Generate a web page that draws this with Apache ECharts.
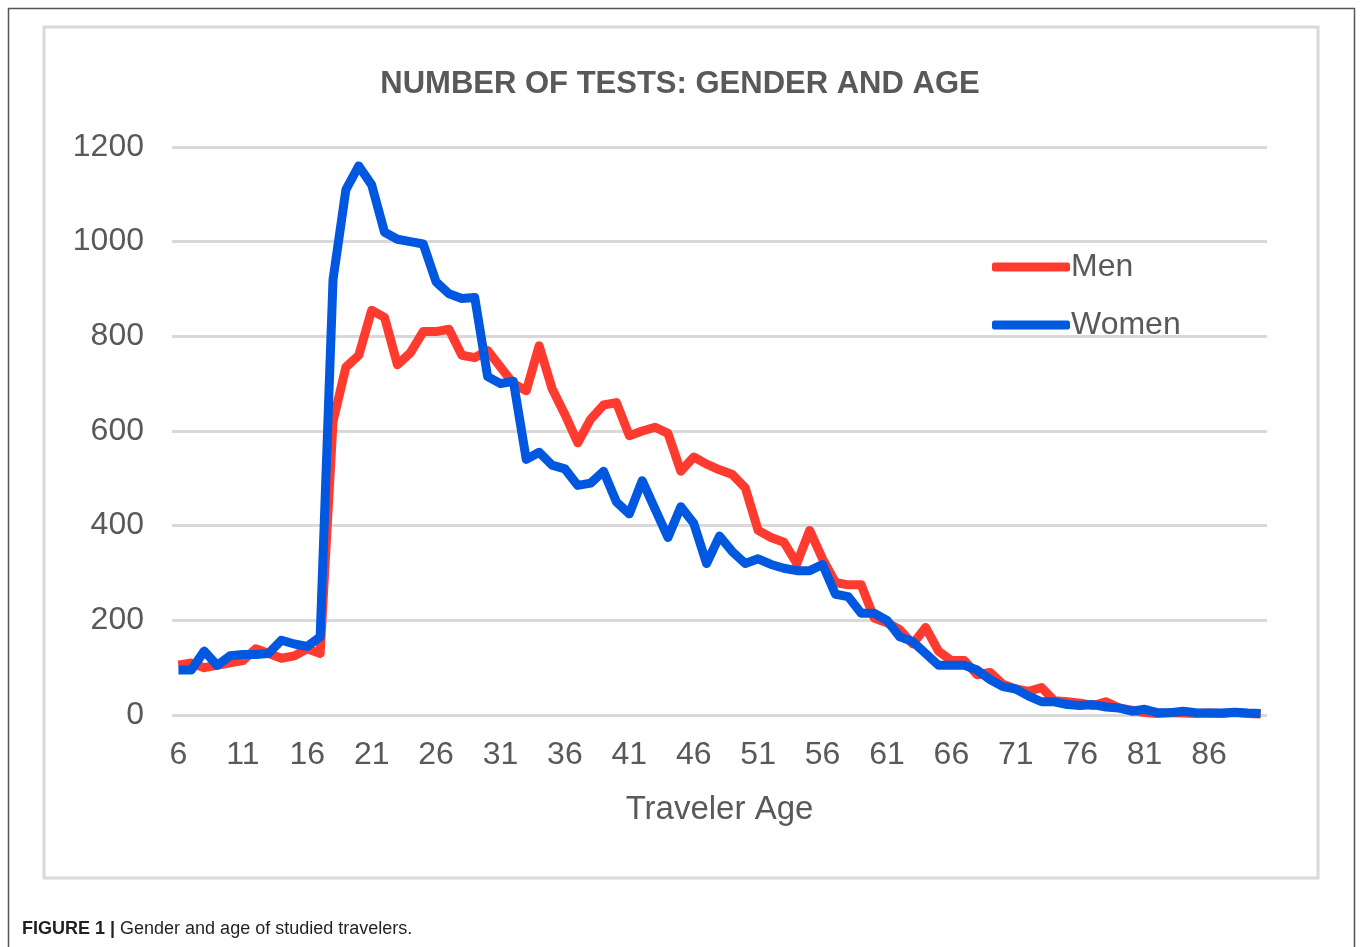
<!DOCTYPE html>
<html>
<head>
<meta charset="utf-8">
<script src="https://cdn.jsdelivr.net/npm/echarts@6/dist/echarts.min.js"></script>
<style>
  html, body { margin: 0; padding: 0; background: #fff; }
  #chart { width: 1360px; height: 947px; }
</style>
</head>
<body>
<div id="chart"></div>
<script>
// ages 6..90
const ages = [];
for (let a = 6; a <= 90; a++) ages.push(String(a));

const men = [
  105, 110, 100, 105, 110, 115, 140, 130, 120, 125,   // 6-15
  140, 130, 620, 735, 760, 855, 840, 740, 765, 810,   // 16-25
  810, 815, 760, 755, 770, 735, 700, 685, 780, 690,   // 26-35
  635, 575, 625, 655, 660, 590, 600, 608, 595, 515,   // 36-45
  545, 530, 518, 508, 480, 390, 375, 365, 320, 390,   // 46-55
  330, 280, 275, 275, 205, 195, 180, 150, 185, 135,   // 56-65
  115, 115, 85, 90, 65, 55, 50, 58, 30, 28,           // 66-75
  25, 20, 28, 15, 10, 5, 3, 5, 4, 3,                  // 76-85
  4, 3, 5, 3, 2                                       // 86-90
];

const women = [
  95, 95, 135, 105, 125, 128, 128, 130, 158, 150,     // 6-15
  145, 165, 920, 1110, 1160, 1120, 1020, 1005, 1000, 995, // 16-25
  915, 890, 880, 882, 715, 700, 705, 540, 555, 528,   // 26-35
  520, 485, 490, 515, 450, 425, 495, 435, 375, 440,   // 36-45
  405, 320, 378, 345, 320, 330, 318, 310, 305, 305,   // 46-55
  318, 255, 250, 215, 215, 200, 165, 155, 130, 105,   // 56-65
  105, 105, 95, 75, 60, 55, 40, 28, 28, 22,           // 66-75
  20, 22, 17, 15, 8, 12, 5, 5, 8, 5,                  // 76-85
  4, 4, 6, 4, 3                                       // 86-90
];

const yTicks = [0, 200, 400, 600, 800, 1000, 1200];

const sans = '"Liberation Sans", Arial, sans-serif';
const grey = '#595959';

let myChart = echarts.init(document.getElementById('chart'));
myChart.setOption({
  backgroundColor: '#ffffff',
  animation: false,
  title: {
    text: 'NUMBER OF TESTS: GENDER AND AGE',
    left: 'center',
    top: 64,
    textStyle: { fontFamily: sans, fontWeight: 'bold', fontSize: 31, color: grey }
  },
  legend: {
    orient: 'vertical',
    left: 987,
    top: 246,
    itemWidth: 78,
    itemHeight: 9,
    itemGap: 26,
    icon: 'roundRect',
    textStyle: { fontFamily: sans, fontSize: 32, color: grey, padding: [0, 0, 0, -4] },
    data: ['Men', 'Women']
  },
  grid: { left: 172, right: 93, top: 147, bottom: 232 },
  xAxis: {
    type: 'category',
    data: ages,
    boundaryGap: true,
    name: 'Traveler Age',
    nameLocation: 'middle',
    nameGap: 78,
    nameTextStyle: { fontFamily: sans, fontSize: 33, color: grey },
    axisLine: { show: false },
    axisTick: { show: false },
    axisLabel: { interval: 4, margin: 24, fontFamily: sans, fontSize: 32, color: grey }
  },
  yAxis: {
    type: 'value',
    min: yTicks[0],
    max: yTicks[yTicks.length - 1],
    interval: 200,
    axisLine: { show: false },
    axisTick: { show: false },
    axisLabel: { margin: 28, fontFamily: sans, fontSize: 32, color: grey,
      formatter: v => String(v) },
    splitLine: { lineStyle: { color: '#d9d9d9', width: 3 } }
  },
  graphic: [
    { type: 'rect', shape: { x: 8.5, y: 8.5, width: 1346, height: 1000 },
      style: { fill: null, stroke: '#555555', lineWidth: 1.5 }, silent: true },
    { type: 'rect', shape: { x: 44, y: 27, width: 1274, height: 851 },
      style: { fill: null, stroke: '#d9d9d9', lineWidth: 3 }, silent: true },
    { type: 'text', left: 22, top: 920,
      style: {
        text: '{b|FIGURE 1 |} Gender and age of studied travelers.',
        rich: {
          b: { fontFamily: sans, fontWeight: 'bold', fontSize: 18, fill: '#231f20' }
        },
        fontFamily: sans, fontSize: 18, fill: '#231f20'
      }, silent: true }
  ],
  series: [
    {
      name: 'Men',
      type: 'line',
      data: men,
      showSymbol: false,
      color: '#ff3b2f',
      lineStyle: { width: 9, color: '#ff3b2f', join: 'round' },
      z: 2
    },
    {
      name: 'Women',
      type: 'line',
      data: women,
      showSymbol: false,
      color: '#0058e0',
      lineStyle: { width: 9, color: '#0058e0', join: 'round' },
      z: 3
    }
  ]
});
</script>
</body>
</html>
